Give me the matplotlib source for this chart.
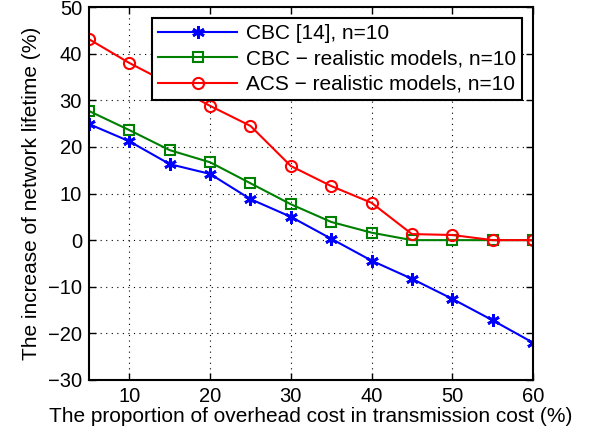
import matplotlib
matplotlib.use("Agg")
import matplotlib.pyplot as plt

# proportion of overhead cost (%)
overhead = [5, 10, 15, 20, 25, 30, 35, 40, 45, 50, 55, 60]

# increase of network lifetime (%)
cbc_14 = [24.9, 21.2, 16.3, 14.2, 8.8, 5.0, 0.3, -4.4, -8.3, -12.6, -17.2, -22.0]
cbc_real = [27.7, 23.6, 19.3, 16.7, 12.2, 7.7, 3.9, 1.6, 0, 0, 0, 0]
acs_real = [43.1, 38.0, 33.5, 28.8, 24.5, 15.9, 11.6, 8.0, 1.3, 1.1, 0, 0]

labels = ['CBC [14], n=10', 'CBC − realistic models, n=10', 'ACS − realistic models, n=10']

plt.rcParams['font.family'] = ['Liberation Sans', 'DejaVu Sans']

fig = plt.figure(figsize=(5.91, 4.4), dpi=100)
ax = fig.add_axes([0.1506, 0.1364, 0.7513, 0.8476])

ax.plot(overhead, cbc_14, color='blue', marker=(6, 2, 0), markersize=9, markeredgewidth=2,
        linewidth=1.5, label=labels[0])
ax.plot(overhead, cbc_real, color='green', marker='s', markersize=6.5, markerfacecolor='none',
        markeredgewidth=1.5, linewidth=1.5, label=labels[1])
ax.plot(overhead, acs_real, color='red', marker='o', markersize=8, markerfacecolor='none',
        markeredgewidth=1.5, linewidth=1.5, label=labels[2])

ax.set_xlim(5, 60)
ax.set_ylim(-30, 50)
ax.set_xticks([10, 20, 30, 40, 50, 60])
ax.set_yticks(range(-30, 51, 10))
ax.tick_params(direction='in', top=True, right=True, length=5, width=1, labelsize=14.5, pad=5)
for s in ax.spines.values():
    s.set_linewidth(1.5)
ax.grid(True, linestyle=(0, (1, 4)), color='black', linewidth=0.8)

ax.set_xlabel('The proportion of overhead cost in transmission cost (%)', fontsize=15, labelpad=1)
ax.set_ylabel('The increase of network lifetime (%)', fontsize=15, labelpad=5)

leg = ax.legend(loc='upper right', bbox_to_anchor=(0.975, 0.97), borderaxespad=0,
                fancybox=False, framealpha=1, edgecolor='black', handlelength=3.8,
                borderpad=0.3, labelspacing=0.3, handletextpad=0.4, fontsize=15)
leg.get_frame().set_linewidth(1.5)

fig.savefig('out.png', dpi=100)
